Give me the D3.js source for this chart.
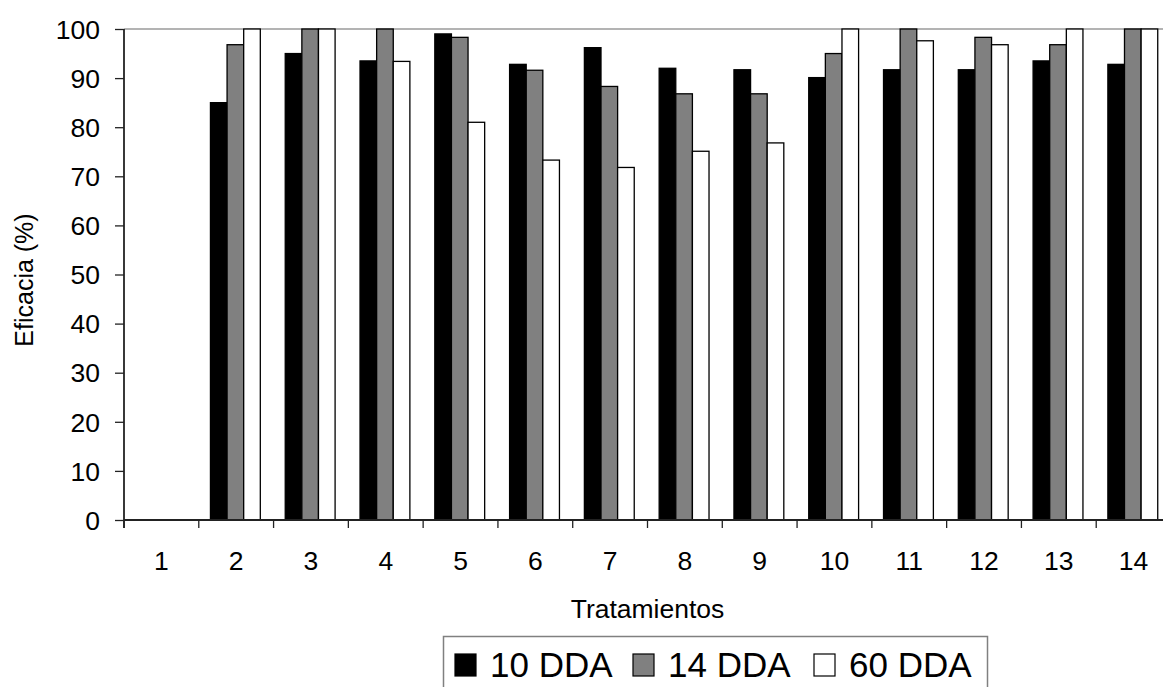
<!DOCTYPE html>
<html>
<head>
<meta charset="utf-8">
<script src="https://cdn.jsdelivr.net/npm/d3@7"></script>
<style>
  html, body { margin: 0; padding: 0; background: #fff; overflow: hidden; }
  svg { display: block; font-family: "Liberation Sans", Arial, sans-serif; }
</style>
</head>
<body>
<svg id="chart" width="1163" height="687"></svg>
<script>
const categories = ["1","2","3","4","5","6","7","8","9","10","11","12","13","14"];
const seriesNames = ["10 DDA", "14 DDA", "60 DDA"];
const seriesColors = ["#000000", "#808080", "#ffffff"];
const dda10 = [0, 85.0, 95.0, 93.5, 99.0, 92.8, 96.2, 92.0, 91.7, 90.1, 91.7, 91.7, 93.5, 92.8];
const dda14 = [0, 96.8, 100, 100, 98.3, 91.6, 88.3, 86.8, 86.8, 95.0, 100, 98.3, 96.8, 100];
const dda60 = [0, 100, 100, 93.4, 81.0, 73.3, 71.8, 75.1, 76.8, 100, 97.6, 96.8, 100, 100];
const yTicks = [0,10,20,30,40,50,60,70,80,90,100];

const series = [dda10, dda14, dda60];
const svg = d3.select("#chart");

const mLeft = 124, mRight = 1171, mTop = 29, mBottom = 520;
const tickFont = 26.5;

const x = d3.scaleBand().domain(categories).range([mLeft, mRight]).padding(0);
const barW = x.bandwidth() / 4.5;
const xInner = d3.scaleBand().domain(seriesNames)
  .range([(x.bandwidth() - 3 * barW) / 2 - 0.8, (x.bandwidth() + 3 * barW) / 2 - 0.8]).padding(0);
const y = d3.scaleLinear().domain([0, 100]).range([mBottom, mTop]);

// top border line of plot area
svg.append("line")
  .attr("x1", mLeft).attr("x2", mRight)
  .attr("y1", y(100)).attr("y2", y(100))
  .attr("stroke", "#9a9a9a").attr("stroke-width", 1.5);

// bars
const groups = svg.append("g").selectAll("g")
  .data(categories)
  .join("g")
  .attr("transform", d => `translate(${x(d)},0)`);

groups.selectAll("rect")
  .data((d, i) => seriesNames.map((s, k) => ({ s, k, v: series[k][i] })).filter(o => o.v > 0))
  .join("rect")
  .attr("x", o => xInner(o.s))
  .attr("width", xInner.bandwidth())
  .attr("y", o => y(o.v))
  .attr("height", o => y(0) - y(o.v))
  .attr("fill", o => seriesColors[o.k])
  .attr("stroke", "#000")
  .attr("stroke-width", 1.3);

// y axis
const yAxis = d3.axisLeft(y).tickValues(yTicks).tickSize(9).tickPadding(15).tickFormat(d3.format("d"));
const gy = svg.append("g").attr("transform", `translate(${mLeft},0)`).call(yAxis);
gy.select(".domain").attr("stroke", "#222").attr("stroke-width", 1.8).attr("d", `M0,${mTop}V${mBottom + 8}`);
gy.selectAll(".tick line").attr("stroke", "#222").attr("stroke-width", 1.3);
gy.selectAll(".tick text").attr("font-size", tickFont).attr("fill", "#000")
  .attr("font-family", "'Liberation Sans', Arial, sans-serif").attr("dy", "0.35em");

// x axis
const gx = svg.append("g").attr("transform", `translate(0,${mBottom})`);
gx.append("line").attr("x1", mLeft).attr("x2", mRight).attr("y1", 0).attr("y2", 0)
  .attr("stroke", "#222").attr("stroke-width", 1.8);
gx.selectAll(".xt").data(categories).join("line")
  .attr("class", "xt")
  .attr("x1", d => x(d)).attr("x2", d => x(d))
  .attr("y1", 0).attr("y2", 8)
  .attr("stroke", "#222").attr("stroke-width", 1.3);
gx.selectAll(".xl").data(categories).join("text")
  .attr("class", "xl")
  .attr("x", d => x(d) + x.bandwidth() / 2)
  .attr("y", 50)
  .attr("text-anchor", "middle")
  .attr("font-size", tickFont)
  .text(d => d);

// axis titles
svg.append("text")
  .attr("x", (mLeft + mRight) / 2).attr("y", 618)
  .attr("text-anchor", "middle").attr("font-size", tickFont)
  .text("Tratamientos");
svg.append("text")
  .attr("transform", `translate(33,280) rotate(-90)`)
  .attr("text-anchor", "middle").attr("font-size", 25)
  .text("Eficacia (%)");

// legend
const lg = svg.append("g");
lg.append("rect").attr("x", 443.5).attr("y", 636.5).attr("width", 544).attr("height", 80)
  .attr("fill", "#fff").attr("stroke", "#808080").attr("stroke-width", 1.5);
const legendX = [455, 633, 814];
seriesNames.forEach((s, k) => {
  lg.append("rect").attr("x", legendX[k]).attr("y", 654).attr("width", 21).attr("height", 22)
    .attr("fill", seriesColors[k]).attr("stroke", "#000").attr("stroke-width", 1.2);
  lg.append("text").attr("x", legendX[k] + 35).attr("y", 677)
    .attr("font-size", 35).text(s);
});
</script>
</body>
</html>
